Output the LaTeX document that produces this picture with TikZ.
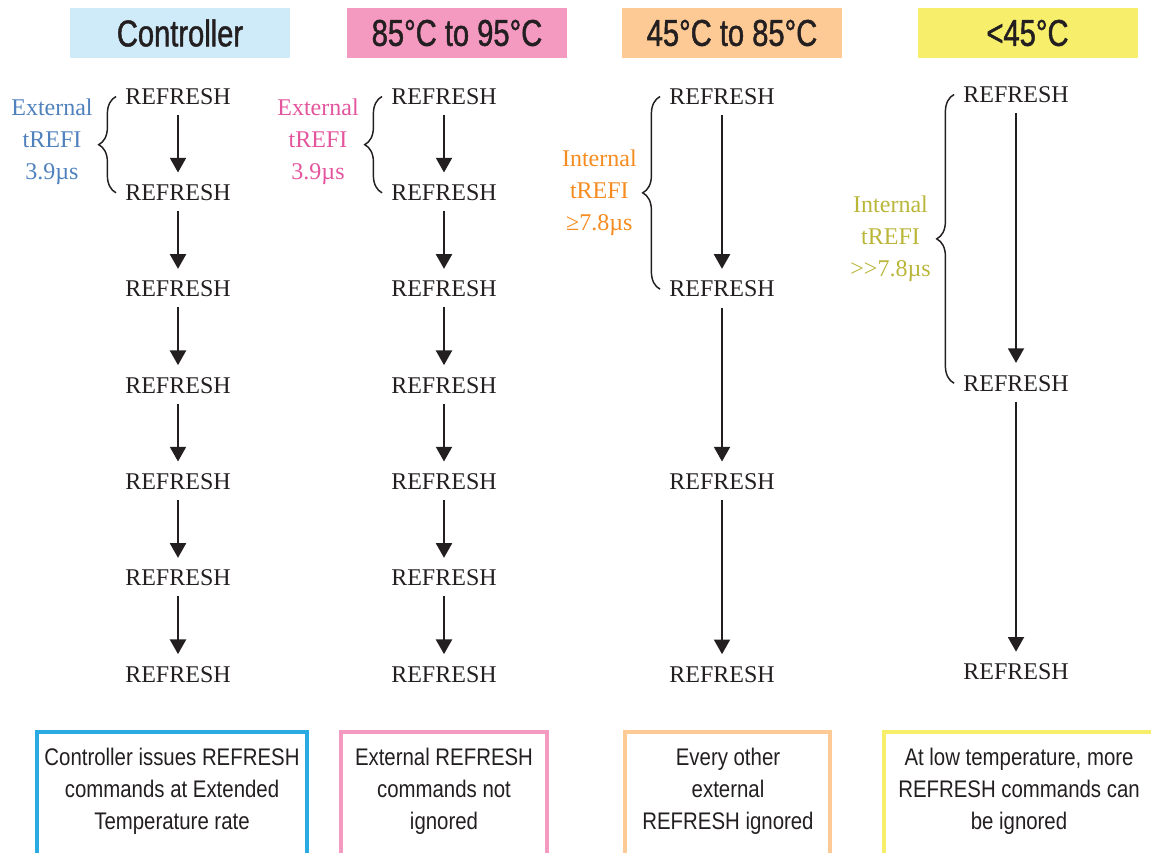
\documentclass[tikz,border=0pt]{standalone}
\usepackage{fontspec}
\setmainfont{Liberation Serif}
\newfontfamily\condsans[FakeStretch=0.85]{Liberation Sans}
\newfontfamily\headsans[FakeStretch=0.78,FakeBold=1.2]{Liberation Sans}
\usetikzlibrary{arrows.meta,decorations.pathreplacing}
\definecolor{inkdark}{HTML}{231F20}
\definecolor{ctlfill}{HTML}{CFEBF9}
\definecolor{ctlline}{HTML}{29ABE2}
\definecolor{ctltext}{HTML}{4F81BD}
\definecolor{hotfill}{HTML}{F49AC1}
\definecolor{hottext}{HTML}{E3559C}
\definecolor{warmfill}{HTML}{FDCA95}
\definecolor{warmtext}{HTML}{F68B1F}
\definecolor{coolfill}{HTML}{F7EE6C}
\definecolor{cooltext}{HTML}{BAB63A}

\begin{document}
\begin{tikzpicture}[x=0.75pt,y=-0.75pt,>=Triangle]
\tikzset{hdr/.style={minimum width=165pt,minimum height=37.5pt,inner sep=0pt,
    font=\headsans\fontsize{28}{30}\selectfont,text=inkdark},
  rf/.style={inner sep=0pt,font=\fontsize{18}{20}\selectfont,text=inkdark},
  flow/.style={line width=1.5pt,-{Triangle[length=11pt,width=12pt]},
    shorten <=7.5pt,shorten >=9pt,inkdark},
  brc/.style={line width=1.1pt,inkdark,decorate,decoration={brace,amplitude=13pt}},
  lbl/.style={inner sep=0pt,align=center,anchor=east,xshift=-17pt,
    font=\fontsize{18}{24}\selectfont},
  notebox/.style={line width=3pt},
  note/.style={align=center,inner sep=0pt,
    font=\condsans\fontsize{18}{24}\selectfont,text=inkdark}}
\useasboundingbox (0,0) rectangle (1151,852);
\clip (0,0) rectangle (1151,852);
% ================= headers =================
\node[hdr,fill=ctlfill]  (ha) at (180,33)    {Controller};
\node[hdr,fill=hotfill]  (hb) at (457,33)    {85°C to 95°C};
\node[hdr,fill=warmfill] (hc) at (732,33)    {45°C to 85°C};
\node[hdr,fill=coolfill] (hd) at (1027.5,33) {<45°C};
% ================= column (a): controller =================
\foreach \i in {1,...,7}{\node[rf] (a\i) at (178,{96.5+96.33*(\i-1)}) {REFRESH};}
\foreach \i [count=\j from 2] in {1,...,6}{\draw[flow] (a\i) -- (a\j);}
\draw[brc] ([xshift=-6.75pt]a2.west) -- ([xshift=-6.75pt]a1.west)
  node[lbl,text=ctltext,midway,yshift=2pt] (la) {External\\tREFI\\3.9µs};
% ================= column (b): 85 to 95 =================
\foreach \i in {1,...,7}{\node[rf] (b\i) at (444,{96.5+96.33*(\i-1)}) {REFRESH};}
\foreach \i [count=\j from 2] in {1,...,6}{\draw[flow] (b\i) -- (b\j);}
\draw[brc] ([xshift=-6.75pt]b2.west) -- ([xshift=-6.75pt]b1.west)
  node[lbl,text=hottext,midway,yshift=2pt] (lb) {External\\tREFI\\3.9µs};
% ================= column (c): 45 to 85 =================
\foreach \i in {1,...,4}{\node[rf] (c\i) at (722,{96.5+192.67*(\i-1)}) {REFRESH};}
\foreach \i [count=\j from 2] in {1,...,3}{\draw[flow] (c\i) -- (c\j);}
\draw[brc] ([xshift=-6.75pt]c2.west) -- ([xshift=-6.75pt]c1.west)
  node[lbl,text=warmtext,midway] (lc) {Internal\\tREFI\\≥7.8µs};
% ================= column (d): below 45 =================
\foreach \i in {1,...,3}{\node[rf] (d\i) at (1016,{94.5+288.75*(\i-1)}) {REFRESH};}
\foreach \i [count=\j from 2] in {1,...,2}{\draw[flow] (d\i) -- (d\j);}
\draw[brc] ([xshift=-6.75pt]d2.west) -- ([xshift=-6.75pt]d1.west)
  node[lbl,text=cooltext,midway] (ld) {Internal\\tREFI\\>{}>7.8µs};
% ================= notes =================
\draw[notebox,ctlline]  (37,732)  rectangle (307,900);
\draw[notebox,hotfill]  (341,732) rectangle (547,900);
\draw[notebox,warmfill] (625,732) rectangle (830,900);
\draw[notebox,coolfill] (884,732) rectangle (1156,900);
\node[note] (na) at (172,791)  {Controller issues REFRESH\\commands at Extended\\Temperature rate};
\node[note] (nb) at (444,791)  {External REFRESH\\commands not\\ignored};
\node[note] (nc) at (728,791)  {Every other\\external\\REFRESH ignored};
\node[note] (nd) at (1019,791) {At low temperature, more\\REFRESH commands can\\be ignored};
\end{tikzpicture}
\end{document}
